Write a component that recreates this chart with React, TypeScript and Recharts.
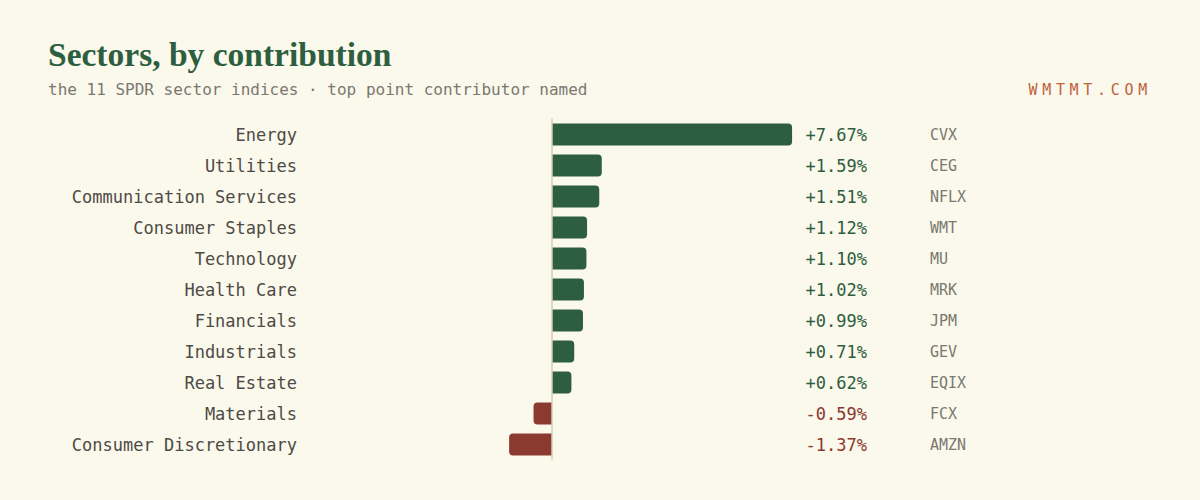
import React from "react";
import { BarChart, Bar, XAxis, YAxis, ReferenceLine, LabelList } from "recharts";

const sectors = [
  "Energy",
  "Utilities",
  "Communication Services",
  "Consumer Staples",
  "Technology",
  "Health Care",
  "Financials",
  "Industrials",
  "Real Estate",
  "Materials",
  "Consumer Discretionary",
];
const contributions = [7.67, 1.59, 1.51, 1.12, 1.1, 1.02, 0.99, 0.71, 0.62, -0.59, -1.37];
const tickers = ["CVX", "CEG", "NFLX", "WMT", "MU", "MRK", "JPM", "GEV", "EQIX", "FCX", "AMZN"];

const data = sectors.map((name, i) => ({ name, value: contributions[i], ticker: tickers[i] }));

const BG = "#fbf8ec";
const GREEN = "#2e5e40";
const RED = "#8b3a2f";
const MONO = "'DejaVu Sans Mono', 'Liberation Mono', monospace";

const BarShape = (props: any) => {
  const { x, y, width, height, payload } = props;
  const left = Math.min(x, x + width);
  const w = Math.abs(width);
  const r = Math.min(4, w / 2, height / 2);
  const pos = payload.value >= 0;
  const fill = pos ? GREEN : RED;
  let d: string;
  if (pos) {
    d = `M${left},${y} H${left + w - r} Q${left + w},${y} ${left + w},${y + r} V${y + height - r} Q${left + w},${y + height} ${left + w - r},${y + height} H${left} Z`;
  } else {
    d = `M${left + w},${y} H${left + r} Q${left},${y} ${left},${y + r} V${y + height - r} Q${left},${y + height} ${left + r},${y + height} H${left + w} Z`;
  }
  return <path d={d} fill={fill} />;
};

const RowLabels = (props: any) => {
  const { y, height, index } = props;
  const v = contributions[index];
  const cy = y + height / 2;
  const txt = (v >= 0 ? "+" : "-") + Math.abs(v).toFixed(2) + "%";
  return (
    <g>
      <text x={297} y={cy} dy={6} textAnchor="end" fill="#4d4b45" fontFamily={MONO} fontSize={17}>
        {sectors[index]}
      </text>
      <text x={867} y={cy} dy={6} textAnchor="end" fill={v >= 0 ? GREEN : RED} fontFamily={MONO} fontSize={17}>
        {txt}
      </text>
      <text x={930} y={cy} dy={5} textAnchor="start" fill="#7a7870" fontFamily={MONO} fontSize={15}>
        {tickers[index]}
      </text>
    </g>
  );
};

export default function App() {
  return (
    <div style={{ position: "absolute", left: 0, top: 0, width: 1200, height: 500, background: BG, overflow: "hidden" }}>
      <div
        style={{
          position: "absolute",
          left: 48,
          top: 35,
          fontFamily: "'Liberation Serif', 'DejaVu Serif', serif",
          fontWeight: 700,
          fontSize: 33.5,
          color: GREEN,
          lineHeight: "40px",
          whiteSpace: "nowrap",
        }}
      >
        Sectors, by contribution
      </div>
      <div
        style={{
          position: "absolute",
          left: 48,
          top: 80,
          fontFamily: MONO,
          fontSize: 16,
          color: "#7a7870",
          lineHeight: "20px",
          whiteSpace: "nowrap",
        }}
      >
        the 11 SPDR sector indices · top point contributor named
      </div>
      <div
        style={{
          position: "absolute",
          right: 48,
          top: 80,
          fontFamily: MONO,
          fontSize: 15,
          color: "#c0623d",
          letterSpacing: "4.7px",
          lineHeight: "20px",
          whiteSpace: "nowrap",
        }}
      >
        WMTMT.COM
      </div>
      <div style={{ position: "absolute", left: 0, top: 0 }}>
        <BarChart
          width={1200}
          height={500}
          data={data}
          layout="vertical"
          margin={{ top: 118.5, bottom: 40.5, left: 395.5, right: 303.7 }}
          barSize={22}
        >
          <XAxis type="number" domain={[-5, 11]} hide allowDataOverflow />
          <YAxis type="category" dataKey="name" hide />
          <Bar dataKey="value" shape={<BarShape />} isAnimationActive={false}>
            <LabelList dataKey="value" content={<RowLabels />} />
          </Bar>
          <ReferenceLine x={0} stroke="#d6ccb2" strokeWidth={1.5} />
        </BarChart>
      </div>
    </div>
  );
}
